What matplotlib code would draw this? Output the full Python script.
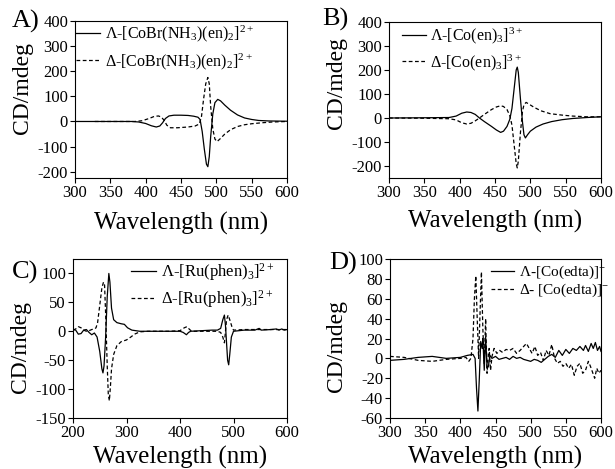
import matplotlib
matplotlib.use("Agg")
import matplotlib.pyplot as plt

plt.rcParams["font.family"] = ["Liberation Serif", "DejaVu Serif"]
plt.rcParams["mathtext.fontset"] = "custom"
plt.rcParams["mathtext.rm"] = "Liberation Serif"
plt.rcParams["mathtext.it"] = "Liberation Serif:italic"
plt.rcParams["axes.unicode_minus"] = False

# ---- data (wavelength nm, CD mdeg) ----
a_lam_x = [300, 380, 390, 400, 408, 415, 420, 424, 428, 433, 440, 450, 460, 468, 474, 477,
           480, 483, 486, 488, 490, 492, 495, 498, 502, 506, 512, 520, 530, 540, 550, 560, 575, 600]
a_lam_y = [0, 0, -2, -8, -17, -22, -18, -5, 12, 22, 25, 25, 24, 21, 17, 8,
           -40, -110, -170, -180, -140, -60, 30, 75, 88, 82, 65, 45, 26, 14, 8, 4, 2, 1]
a_del_x = [328, 385, 395, 405, 412, 418, 422, 426, 430, 435, 445, 460, 470, 476, 479, 482,
           485, 488, 490, 492, 495, 498, 501, 505, 512, 520, 530, 540, 550, 565, 580, 600]
a_del_y = [0, 0, 3, 12, 20, 22, 18, 5, -15, -25, -25, -22, -18, -10, 20, 90,
           150, 175, 150, 60, -30, -70, -80, -70, -50, -33, -20, -13, -9, -5, -2, 0]

b_lam_x = [300, 350, 385, 395, 403, 410, 416, 422, 428, 435, 445, 452, 458, 462, 467, 471,
           474, 477, 480, 481.5, 483, 486, 489, 491, 493, 496, 500, 508, 518, 530, 545, 560, 580, 600]
b_lam_y = [0, 1, 2, 8, 20, 25, 23, 15, 0, -15, -35, -50, -60, -55, -35, -5,
           40, 120, 200, 212, 190, 80, -20, -70, -83, -70, -55, -38, -25, -15, -7, -2, 2, 5]
b_del_x = [300, 350, 385, 395, 403, 410, 416, 422, 428, 435, 445, 452, 458, 462, 467, 471,
           474, 477, 480, 481.5, 483, 486, 489, 491, 494, 498, 505, 515, 528, 545, 560, 580, 600]
b_del_y = [0, -1, -3, -8, -20, -25, -22, -12, 0, 15, 35, 46, 51, 48, 35, 10,
           -30, -110, -190, -208, -180, -60, 30, 55, 65, 58, 45, 30, 18, 12, 8, 5, 5]

c_lam_x = [200, 205, 210, 215, 220, 225, 230, 235, 240, 245, 250, 254, 256, 258, 261, 264,
           267, 269, 272, 276, 282, 290, 296, 302, 310, 325, 350, 380, 400, 406, 412, 416,
           420, 440, 460, 470, 476, 480, 483, 485, 487, 489, 491, 493, 496, 500, 520, 540,
           548, 552, 570, 580, 585, 590, 595, 600]
c_lam_y = [3, 2, -5, -4, 2, 3, -2, -6, -3, -10, -35, -65, -72, -60, -10, 60,
           100, 85, 40, 20, 15, 13, 12, 6, 2, 0, 0, 0, 0, -2, -6, -2,
           0, 1, 2, 2, 5, 20, 28, 10, -20, -50, -58, -40, -10, 0, 2, 2,
           5, 2, 3, 4, 2, 4, 2, 3]
c_del_x = [200, 205, 210, 215, 220, 225, 230, 235, 240, 243, 246, 250, 254, 257, 259, 261,
           264, 266, 268, 270, 272, 276, 282, 290, 300, 308, 315, 325, 340, 380, 400, 408,
           413, 418, 422, 440, 460, 470, 476, 480, 483, 485, 487, 490, 493, 497, 500, 520,
           540, 560, 580, 600]
c_del_y = [2, 4, 8, 6, 2, 0, 1, 3, 4, 6, 15, 45, 75, 85, 80, 30,
           -60, -110, -120, -95, -65, -40, -25, -18, -15, -10, -5, -1, 0, 0, 1, 6,
           8, 3, 0, 0, 0, 0, -2, -10, -20, 0, 20, 28, 20, 8, 2, 3,
           3, 3, 3, 3]

d_lam_x = [300, 320, 340, 360, 380, 400, 410, 418, 421, 423, 425, 427, 429, 431, 432, 434,
           436, 438, 440, 442, 445, 450, 455, 460, 465, 470, 475, 480, 485, 490, 495, 500,
           505, 510, 515, 520, 525, 530, 535, 540, 545, 550, 555, 560, 565, 570, 575, 578,
           582, 586, 589, 592, 595, 598, 600]
d_lam_y = [-2, -1, 1, 2, 0, 1, 3, 4, 0, -30, -53, -20, 17, 10, 20, -12,
           22, -10, -8, 3, 0, 2, -1, 0, 1, -1, 2, 0, 1, -1, -2, -3,
           -1, -2, -4, -1, 2, 4, 1, 8, 3, 9, 5, 10, 8, 12, 8, 13,
           7, 15, 10, 16, 8, 12, 7]
d_del_x = [300, 320, 340, 360, 380, 400, 408, 412, 415, 418, 420, 422, 424, 426, 428, 430,
           432, 434, 436, 437, 438, 440, 441, 443, 445, 448, 452, 456, 460, 465, 470, 475,
           480, 485, 490, 494, 498, 502, 506, 510, 514, 518, 522, 526, 530, 534, 538, 542,
           546, 550, 554, 558, 562, 566, 570, 574, 578, 582, 585, 588, 591, 594, 597, 600]
d_del_y = [2, 1, -2, -3, -1, 0, 1, -3, 0, 20, 60, 83, 40, 0, 45, 87,
           30, -5, 40, 10, -15, 5, 10, -12, 2, 10, 5, 8, 6, 9, 8, 10,
           5, 8, 12, 15, 10, 5, 12, 3, 6, -2, 8, 3, 14, 0, -5, -3,
           -8, -5, -10, -6, -17, -8, -5, -15, -12, -3, -8, -14, -20, -10, -15, -12]

labels_a = ["Λ-[CoBr(NH$_3$)(en)$_2$]$^{2+}$", "Δ-[CoBr(NH$_3$)(en)$_2$]$^{2+}$"]
labels_b = ["Λ-[Co(en)$_3$]$^{3+}$", "Δ-[Co(en)$_3$]$^{3+}$"]
labels_c = ["Λ-[Ru(phen)$_3$]$^{2+}$", "Δ-[Ru(phen)$_3$]$^{2+}$"]
labels_d = ["Λ-[Co(edta)]$^{-}$", "Δ- [Co(edta)]$^{-}$"]

W, H = 615, 469
fig = plt.figure(figsize=(W / 100, H / 100), dpi=100)


def px_axes(l, t, r, b):
    return fig.add_axes([l / W, 1 - b / H, (r - l) / W, (b - t) / H])


def style(ax, xlim, xticks, ylim, yticks):
    ax.set_xlim(xlim)
    ax.set_ylim(ylim)
    ax.set_xticks(xticks)
    ax.set_yticks(yticks)
    ax.tick_params(direction="out", length=3.5, width=0.8, labelsize=12, pad=1.5,
                   top=False, right=False)
    for s in ax.spines.values():
        s.set_linewidth(0.8)


dash = (0, (3, 2))
# box px, data, labels, limits, legend (anchor, size, spacing), tag pos, ylabel centre y, xlabel baseline
panels = [
    ((75, 21, 287, 178), a_lam_x, a_lam_y, a_del_x, a_del_y, labels_a,
     (300, 600), range(300, 601, 50), (-225, 400), range(-200, 401, 100),
     ((0.005, 0.985), 11.5, 0.45), "A)", (12, 28), 88, 230),
    ((389, 22, 601, 178), b_lam_x, b_lam_y, b_del_x, b_del_y, labels_b,
     (300, 600), range(300, 601, 50), (-250, 400), range(-200, 401, 100),
     ((0.06, 0.975), 11.5, 0.35), "B)", (322, 26), 83, 228),
    ((73, 259, 287, 418), c_lam_x, c_lam_y, c_del_x, c_del_y, labels_c,
     (200, 600), range(200, 601, 100), (-150, 125), range(-150, 101, 50),
     ((0.27, 0.985), 12, 0.3), "C)", (12, 279), 347, 464),
    ((390, 259, 601, 418), d_lam_x, d_lam_y, d_del_x, d_del_y, labels_d,
     (300, 600), range(300, 601, 50), (-60, 100), range(-60, 101, 20),
     ((0.48, 0.97), 11, 0.05), "D)", (329, 270), 346, 464),
]

for (box, lx, ly, dx, dy, labs, xlim, xt, ylim, yt, leg, tag, tpos,
     ylab_y, xlab_y) in panels:
    ax = px_axes(*box)
    ax.plot(lx, ly, color="black", lw=0.9, label=labs[0])
    ax.plot(dx, dy, color="black", lw=0.9, ls=dash, label=labs[1])
    style(ax, xlim, xt, ylim, yt)
    ax.legend(loc="upper left", bbox_to_anchor=leg[0], frameon=False, fontsize=leg[1],
              handlelength=1.5, handletextpad=0.3, borderpad=0, borderaxespad=0,
              labelspacing=leg[2])
    l, t, r, b = box
    fig.text(tpos[0] / W, 1 - tpos[1] / H, tag, fontsize=19, ha="left", va="baseline")
    fig.text((l - 53) / W, 1 - ylab_y / H, "CD/mdeg", fontsize=17,
             rotation=90, ha="center", va="center")
    fig.text(((l + r) / 2) / W, 1 - xlab_y / H, "Wavelength (nm)", fontsize=18,
             ha="center", va="baseline")

fig.savefig("out.png", dpi=100)
